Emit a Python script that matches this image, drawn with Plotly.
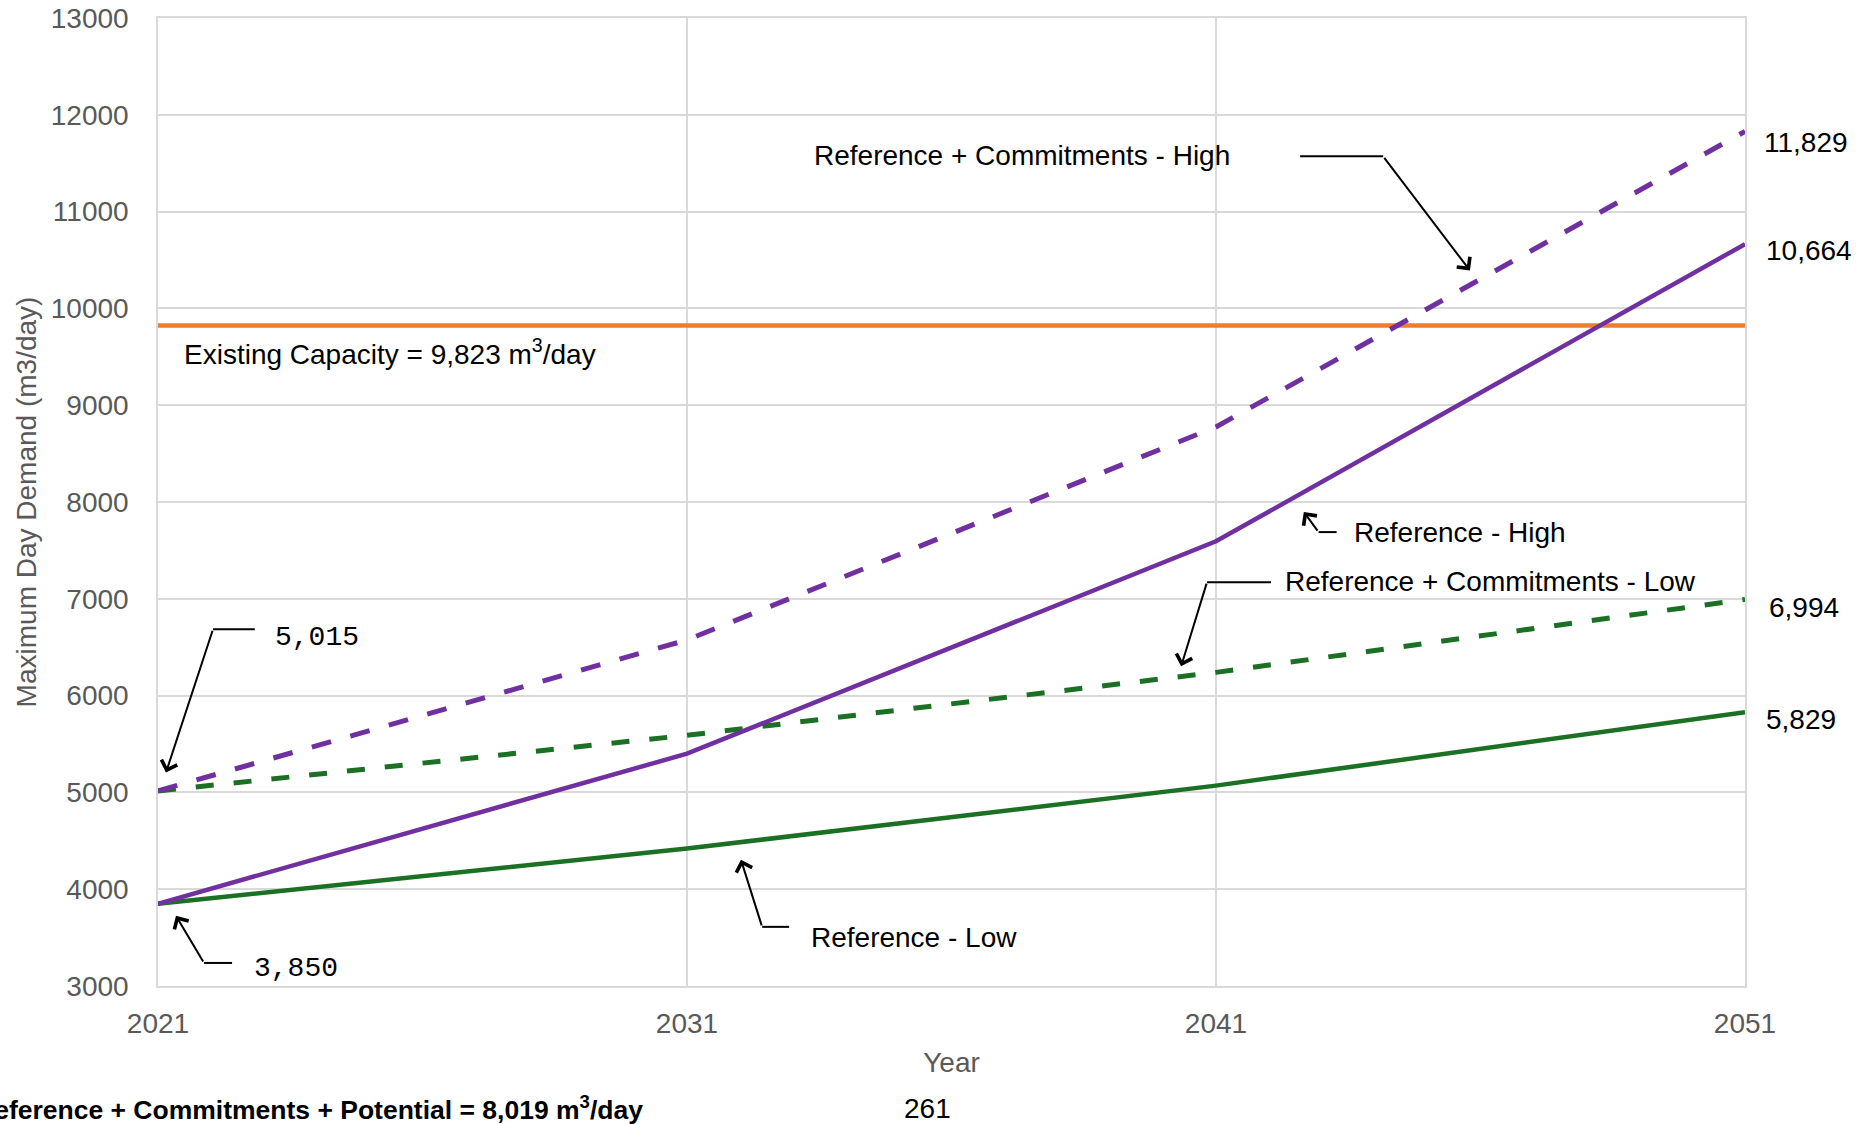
import plotly.graph_objects as go

years = [2021, 2031, 2041, 2051]
ref_low = [3850, 4420, 5070, 5829]
ref_high = [3850, 5400, 7594, 10664]
rc_low = [5015, 5590, 6240, 6994]
rc_high = [5015, 6575, 8776, 11829]
capacity = 9823

PURPLE = "#7030A0"
GREEN = "#1B7024"
ORANGE = "#ED7D31"
GRID = "#D9D9D9"
TXT = "#595959"
FONT = "Liberation Sans, Arial, sans-serif"
MONO = "Liberation Mono, Courier New, monospace"

fig = go.Figure()
fig.add_trace(go.Scatter(x=[years[0], years[-1]], y=[capacity, capacity], mode="lines",
                         line=dict(color=ORANGE, width=4.5), name="Existing Capacity"))
fig.add_trace(go.Scatter(x=years, y=ref_low, mode="lines",
                         line=dict(color=GREEN, width=4.5), name="Reference - Low"))
fig.add_trace(go.Scatter(x=years, y=rc_low, mode="lines",
                         line=dict(color=GREEN, width=5, dash="18px,20px"),
                         name="Reference + Commitments - Low"))
fig.add_trace(go.Scatter(x=years, y=ref_high, mode="lines",
                         line=dict(color=PURPLE, width=4.5), name="Reference - High"))
fig.add_trace(go.Scatter(x=years, y=rc_high, mode="lines",
                         line=dict(color=PURPLE, width=5, dash="20px,20px"),
                         name="Reference + Commitments - High"))

annotations = []
shapes = []


def callout(tip, bend, end):
    # arrow from bend to tip, horizontal line from bend to end
    annotations.append(dict(x=tip[0], y=tip[1], ax=bend[0], ay=bend[1], xref="x", yref="y",
                            axref="x", ayref="y", text="", showarrow=True, arrowhead=4,
                            arrowsize=1.6, arrowwidth=2, arrowcolor="black", standoff=0,
                            startstandoff=0))
    shapes.append(dict(type="line", xref="x", yref="y", x0=bend[0], y0=bend[1],
                       x1=end[0], y1=end[1], line=dict(color="black", width=2)))


def label(x, y, text, font=FONT, size=28, color="black", xanchor="left", xshift=0, yshift=0):
    annotations.append(dict(x=x, y=y, xref="x", yref="y", text=text, showarrow=False,
                            xanchor=xanchor, yanchor="middle", xshift=xshift, yshift=yshift,
                            font=dict(family=font, size=size, color=color)))


# Callouts
callout((2045.80, 10391), (2044.16, 11571), (2042.59, 11571))
label(2033.36, 11575, "Reference + Commitments - High")

callout((2042.66, 7896), (2042.94, 7689), (2043.28, 7689))
label(2043.57, 7689, "Reference - High")

callout((2040.34, 6302), (2040.83, 7172), (2042.04, 7172))
label(2042.26, 7180, "Reference + Commitments - Low")

callout((2032.02, 4304), (2032.42, 3611), (2032.93, 3611))
label(2033.31, 3497, "Reference - Low")

callout((2021.15, 5205), (2022.04, 6685), (2022.83, 6685))
label(2023.17, 6602, f"{rc_high[0]:,}", font=MONO)

callout((2021.34, 3725), (2021.87, 3238), (2022.40, 3238))
label(2022.78, 3176, f"{ref_low[0]:,}", font=MONO)

label(2021.45, 9553, f"Existing Capacity = {capacity:,} m<sup>3</sup>/day")

# End-point data labels
label(years[-1], rc_high[-1], f"{rc_high[-1]:,}", xshift=17, yshift=-11)
label(years[-1], ref_high[-1], f"{ref_high[-1]:,}", xshift=19, yshift=-6)
label(years[-1], rc_low[-1], f"{rc_low[-1]:,}", xshift=22, yshift=-8)
label(years[-1], ref_low[-1], f"{ref_low[-1]:,}", xshift=19, yshift=-7)

annotations.append(dict(x=0.3069, y=-0.1263, xref="paper", yref="paper", xanchor="right",
                        yanchor="middle", showarrow=False,
                        text="<b>Reference + Commitments + Potential = 8,019 m<sup>3</sup>/day</b>",
                        font=dict(family=FONT, size=26.5, color="black")))
annotations.append(dict(x=0.4846, y=-0.1263, xref="paper", yref="paper", xanchor="center",
                        yanchor="middle", showarrow=False, text="261",
                        font=dict(family=FONT, size=28, color="black")))

fig.update_layout(
    width=1868, height=1124,
    margin=dict(l=158, r=123, t=18, b=138, autoexpand=False),
    paper_bgcolor="white", plot_bgcolor="white",
    showlegend=False,
    font=dict(family=FONT, size=28, color=TXT),
    annotations=annotations, shapes=shapes,
)
fig.update_xaxes(range=[2021, 2051], tickvals=years, ticktext=[str(y) for y in years],
                 automargin=False,
                 showgrid=True, gridcolor=GRID, gridwidth=1.5, showline=True, linecolor=GRID,
                 linewidth=1.5, mirror=True, zeroline=False, ticks="outside", ticklen=12,
                 tickcolor="rgba(0,0,0,0)", tickfont=dict(size=28, color=TXT),
                 title=dict(text="Year", font=dict(size=28, color=TXT), standoff=14))
fig.update_yaxes(range=[3000, 13000], dtick=1000, tickformat="d", automargin=False,
                 showgrid=True, gridcolor=GRID, gridwidth=1.5, showline=True, linecolor=GRID,
                 linewidth=1.5, mirror=True, zeroline=False, ticks="outside", ticklen=22,
                 tickcolor="rgba(0,0,0,0)", tickfont=dict(size=28, color=TXT),
                 title=dict(text="Maximum Day Demand (m3/day)", font=dict(size=28, color=TXT),
                            standoff=6))

fig.write_html("out.html")
